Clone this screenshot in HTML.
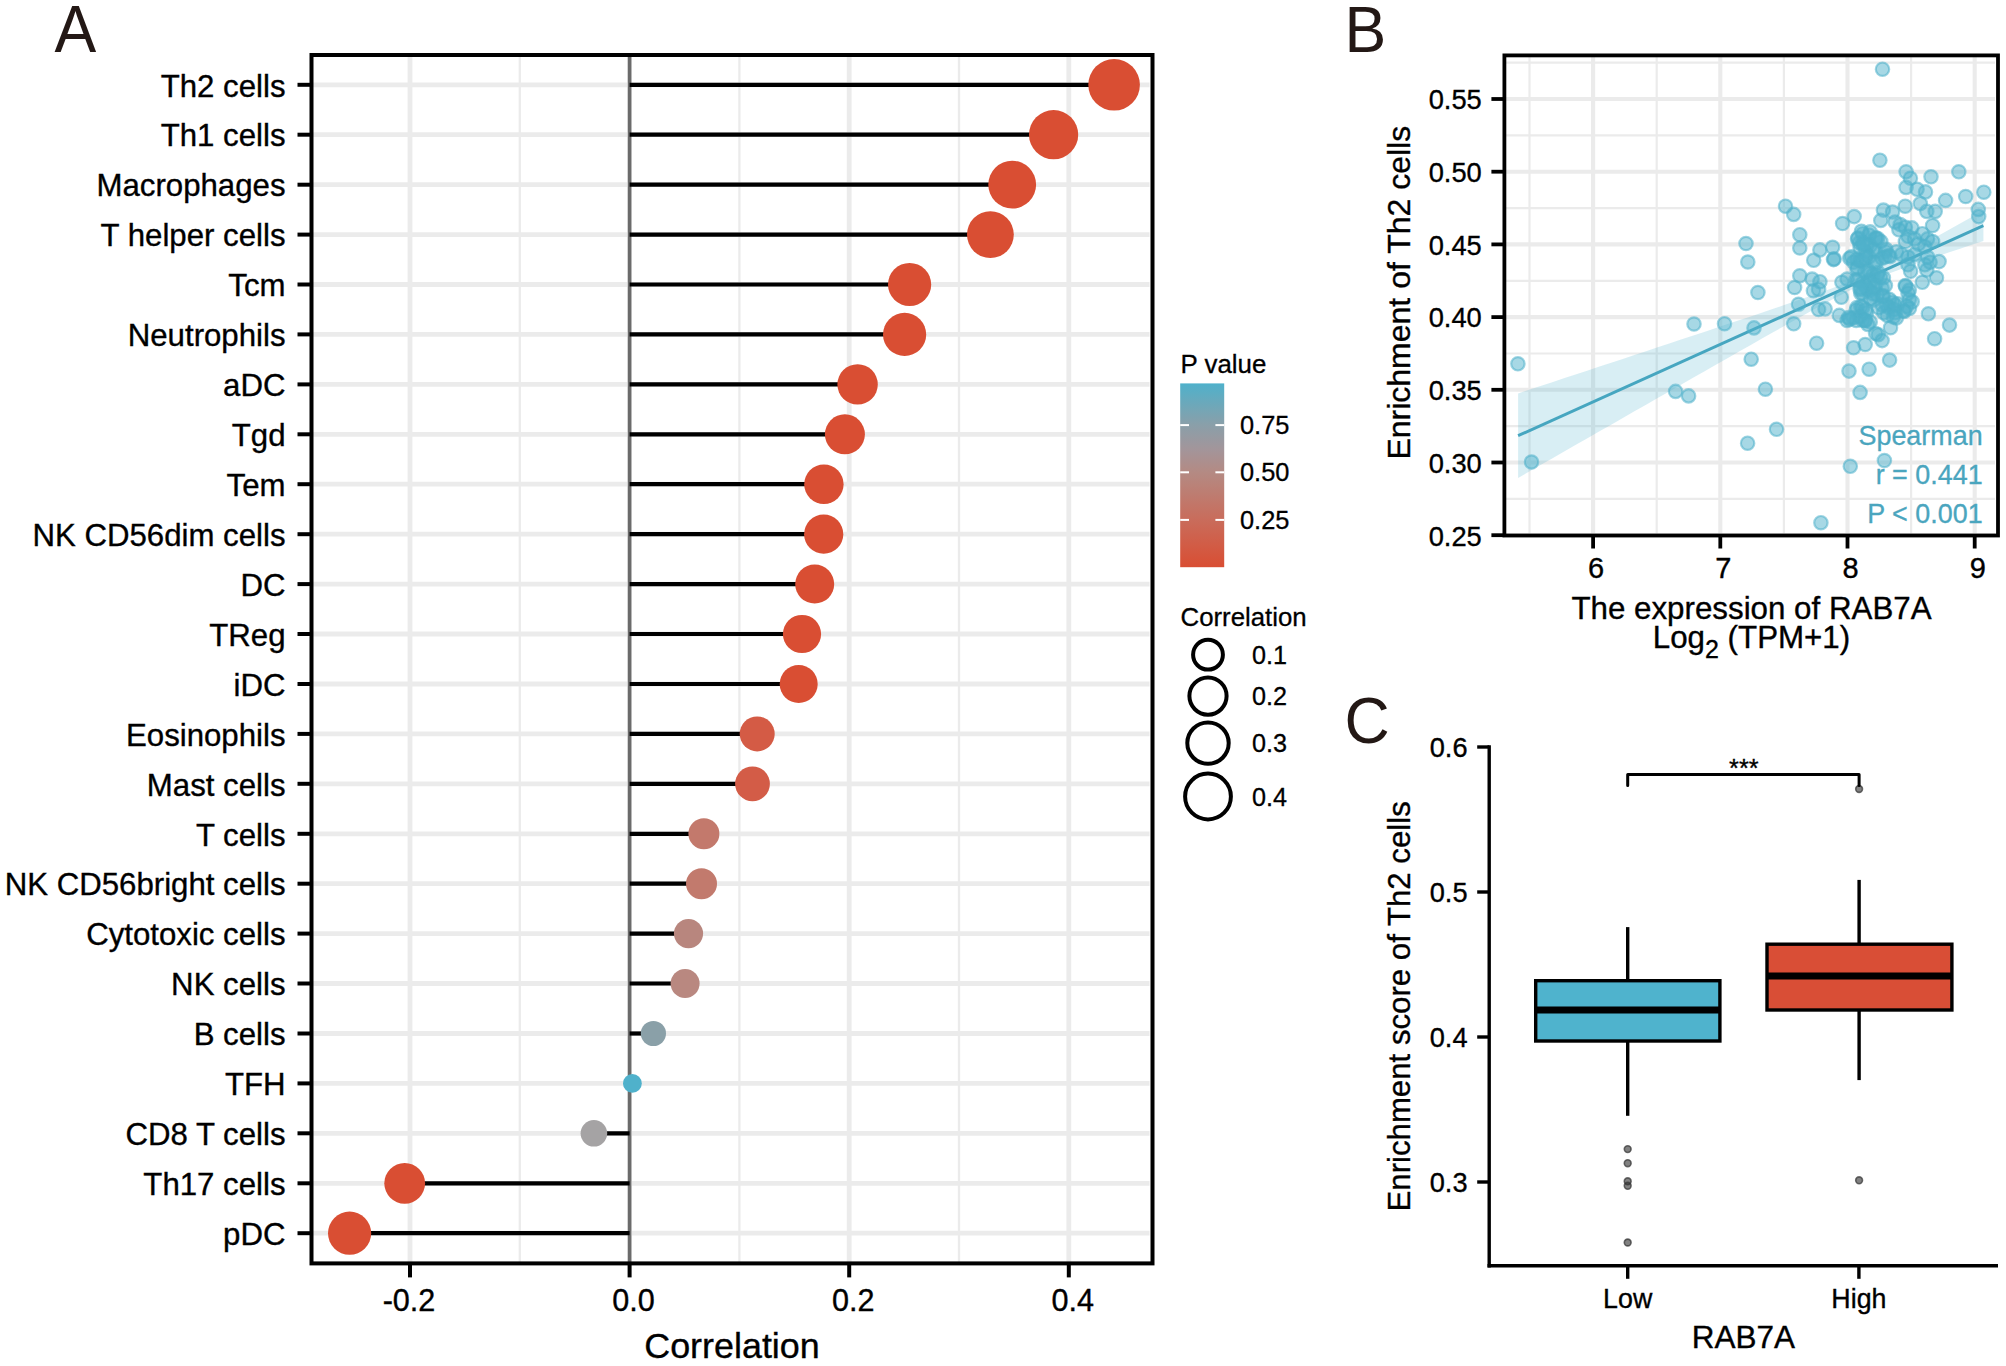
<!DOCTYPE html>
<html lang="en">
<head>
<meta charset="utf-8">
<title>RAB7A immune infiltration figure</title>
<style>
html,body{margin:0;padding:0;background:#fff;}
body{width:2006px;height:1366px;overflow:hidden;}
svg{display:block;}
</style>
</head>
<body>
<svg width="2006" height="1366" viewBox="0 0 2006 1366">
<rect width="2006" height="1366" fill="#fff"/>
<g id="panelA">
<g stroke="#ebebeb" fill="none">
<line x1="410.0" y1="55.0" x2="410.0" y2="1263.4" stroke-width="4.8"/>
<line x1="629.6" y1="55.0" x2="629.6" y2="1263.4" stroke-width="4.8"/>
<line x1="849.2" y1="55.0" x2="849.2" y2="1263.4" stroke-width="4.8"/>
<line x1="1068.8" y1="55.0" x2="1068.8" y2="1263.4" stroke-width="4.8"/>
<line x1="519.8" y1="55.0" x2="519.8" y2="1263.4" stroke-width="2.3"/>
<line x1="739.4" y1="55.0" x2="739.4" y2="1263.4" stroke-width="2.3"/>
<line x1="959.0" y1="55.0" x2="959.0" y2="1263.4" stroke-width="2.3"/>
<line x1="311.5" y1="84.8" x2="1149.5" y2="84.8" stroke-width="4.8"/>
<line x1="311.5" y1="134.7" x2="1149.5" y2="134.7" stroke-width="4.8"/>
<line x1="311.5" y1="184.7" x2="1149.5" y2="184.7" stroke-width="4.8"/>
<line x1="311.5" y1="234.6" x2="1149.5" y2="234.6" stroke-width="4.8"/>
<line x1="311.5" y1="284.5" x2="1149.5" y2="284.5" stroke-width="4.8"/>
<line x1="311.5" y1="334.4" x2="1149.5" y2="334.4" stroke-width="4.8"/>
<line x1="311.5" y1="384.4" x2="1149.5" y2="384.4" stroke-width="4.8"/>
<line x1="311.5" y1="434.3" x2="1149.5" y2="434.3" stroke-width="4.8"/>
<line x1="311.5" y1="484.2" x2="1149.5" y2="484.2" stroke-width="4.8"/>
<line x1="311.5" y1="534.2" x2="1149.5" y2="534.2" stroke-width="4.8"/>
<line x1="311.5" y1="584.1" x2="1149.5" y2="584.1" stroke-width="4.8"/>
<line x1="311.5" y1="634.0" x2="1149.5" y2="634.0" stroke-width="4.8"/>
<line x1="311.5" y1="684.0" x2="1149.5" y2="684.0" stroke-width="4.8"/>
<line x1="311.5" y1="733.9" x2="1149.5" y2="733.9" stroke-width="4.8"/>
<line x1="311.5" y1="783.8" x2="1149.5" y2="783.8" stroke-width="4.8"/>
<line x1="311.5" y1="833.8" x2="1149.5" y2="833.8" stroke-width="4.8"/>
<line x1="311.5" y1="883.7" x2="1149.5" y2="883.7" stroke-width="4.8"/>
<line x1="311.5" y1="933.6" x2="1149.5" y2="933.6" stroke-width="4.8"/>
<line x1="311.5" y1="983.5" x2="1149.5" y2="983.5" stroke-width="4.8"/>
<line x1="311.5" y1="1033.5" x2="1149.5" y2="1033.5" stroke-width="4.8"/>
<line x1="311.5" y1="1083.4" x2="1149.5" y2="1083.4" stroke-width="4.8"/>
<line x1="311.5" y1="1133.3" x2="1149.5" y2="1133.3" stroke-width="4.8"/>
<line x1="311.5" y1="1183.3" x2="1149.5" y2="1183.3" stroke-width="4.8"/>
<line x1="311.5" y1="1233.2" x2="1149.5" y2="1233.2" stroke-width="4.8"/>
</g>
<line x1="629.6" y1="55.0" x2="629.6" y2="1263.4" stroke="#6b6b6b" stroke-width="3.6"/>
<g stroke="#000" stroke-width="4.2">
<line x1="629.6" y1="84.8" x2="1114.1" y2="84.8"/>
<line x1="629.6" y1="134.7" x2="1053.6" y2="134.7"/>
<line x1="629.6" y1="184.7" x2="1012.2" y2="184.7"/>
<line x1="629.6" y1="234.6" x2="990.4" y2="234.6"/>
<line x1="629.6" y1="284.5" x2="909.6" y2="284.5"/>
<line x1="629.6" y1="334.4" x2="904.6" y2="334.4"/>
<line x1="629.6" y1="384.4" x2="857.6" y2="384.4"/>
<line x1="629.6" y1="434.3" x2="844.9" y2="434.3"/>
<line x1="629.6" y1="484.2" x2="823.9" y2="484.2"/>
<line x1="629.6" y1="534.2" x2="823.7" y2="534.2"/>
<line x1="629.6" y1="584.1" x2="814.7" y2="584.1"/>
<line x1="629.6" y1="634.0" x2="802.0" y2="634.0"/>
<line x1="629.6" y1="684.0" x2="798.7" y2="684.0"/>
<line x1="629.6" y1="733.9" x2="757.2" y2="733.9"/>
<line x1="629.6" y1="783.8" x2="752.5" y2="783.8"/>
<line x1="629.6" y1="833.8" x2="703.9" y2="833.8"/>
<line x1="629.6" y1="883.7" x2="701.5" y2="883.7"/>
<line x1="629.6" y1="933.6" x2="688.5" y2="933.6"/>
<line x1="629.6" y1="983.5" x2="685.1" y2="983.5"/>
<line x1="629.6" y1="1033.5" x2="653.4" y2="1033.5"/>
<line x1="629.6" y1="1083.4" x2="632.4" y2="1083.4"/>
<line x1="629.6" y1="1133.3" x2="593.9" y2="1133.3"/>
<line x1="629.6" y1="1183.3" x2="404.7" y2="1183.3"/>
<line x1="629.6" y1="1233.2" x2="349.6" y2="1233.2"/>
</g>
<circle cx="1114.1" cy="84.8" r="25.8" fill="#d94e33"/>
<circle cx="1053.6" cy="134.7" r="24.6" fill="#d94e33"/>
<circle cx="1012.2" cy="184.7" r="23.9" fill="#d94e33"/>
<circle cx="990.4" cy="234.6" r="23.4" fill="#d94e33"/>
<circle cx="909.6" cy="284.5" r="21.6" fill="#d94e33"/>
<circle cx="904.6" cy="334.4" r="21.6" fill="#d94e33"/>
<circle cx="857.6" cy="384.4" r="20.2" fill="#d94e33"/>
<circle cx="844.9" cy="434.3" r="20.0" fill="#d94e33"/>
<circle cx="823.9" cy="484.2" r="19.7" fill="#d94e33"/>
<circle cx="823.7" cy="534.2" r="19.6" fill="#d94e33"/>
<circle cx="814.7" cy="584.1" r="19.5" fill="#d94e33"/>
<circle cx="802.0" cy="634.0" r="19.1" fill="#d94e33"/>
<circle cx="798.7" cy="684.0" r="19.0" fill="#d94e33"/>
<circle cx="757.2" cy="733.9" r="17.5" fill="#d45b45"/>
<circle cx="752.5" cy="783.8" r="17.4" fill="#d35c47"/>
<circle cx="703.9" cy="833.8" r="15.5" fill="#c3796c"/>
<circle cx="701.5" cy="883.7" r="15.5" fill="#c27a6d"/>
<circle cx="688.5" cy="933.6" r="14.6" fill="#b8867e"/>
<circle cx="685.1" cy="983.5" r="14.5" fill="#b98880"/>
<circle cx="653.4" cy="1033.5" r="12.6" fill="#8aa0a8"/>
<circle cx="632.4" cy="1083.4" r="9.4" fill="#4fb1cb"/>
<circle cx="593.9" cy="1133.3" r="13.3" fill="#a5a3a4"/>
<circle cx="404.7" cy="1183.3" r="20.4" fill="#d94e33"/>
<circle cx="349.6" cy="1233.2" r="21.6" fill="#d94e33"/>
<rect x="311.5" y="55.0" width="841.0" height="1208.4" fill="none" stroke="#000" stroke-width="4"/>
<g stroke="#000" stroke-width="4">
<line x1="297.5" y1="84.8" x2="311.5" y2="84.8"/>
<line x1="297.5" y1="134.7" x2="311.5" y2="134.7"/>
<line x1="297.5" y1="184.7" x2="311.5" y2="184.7"/>
<line x1="297.5" y1="234.6" x2="311.5" y2="234.6"/>
<line x1="297.5" y1="284.5" x2="311.5" y2="284.5"/>
<line x1="297.5" y1="334.4" x2="311.5" y2="334.4"/>
<line x1="297.5" y1="384.4" x2="311.5" y2="384.4"/>
<line x1="297.5" y1="434.3" x2="311.5" y2="434.3"/>
<line x1="297.5" y1="484.2" x2="311.5" y2="484.2"/>
<line x1="297.5" y1="534.2" x2="311.5" y2="534.2"/>
<line x1="297.5" y1="584.1" x2="311.5" y2="584.1"/>
<line x1="297.5" y1="634.0" x2="311.5" y2="634.0"/>
<line x1="297.5" y1="684.0" x2="311.5" y2="684.0"/>
<line x1="297.5" y1="733.9" x2="311.5" y2="733.9"/>
<line x1="297.5" y1="783.8" x2="311.5" y2="783.8"/>
<line x1="297.5" y1="833.8" x2="311.5" y2="833.8"/>
<line x1="297.5" y1="883.7" x2="311.5" y2="883.7"/>
<line x1="297.5" y1="933.6" x2="311.5" y2="933.6"/>
<line x1="297.5" y1="983.5" x2="311.5" y2="983.5"/>
<line x1="297.5" y1="1033.5" x2="311.5" y2="1033.5"/>
<line x1="297.5" y1="1083.4" x2="311.5" y2="1083.4"/>
<line x1="297.5" y1="1133.3" x2="311.5" y2="1133.3"/>
<line x1="297.5" y1="1183.3" x2="311.5" y2="1183.3"/>
<line x1="297.5" y1="1233.2" x2="311.5" y2="1233.2"/>
<line x1="410.0" y1="1263.4" x2="410.0" y2="1277.4"/>
<line x1="629.6" y1="1263.4" x2="629.6" y2="1277.4"/>
<line x1="849.2" y1="1263.4" x2="849.2" y2="1277.4"/>
<line x1="1068.8" y1="1263.4" x2="1068.8" y2="1277.4"/>
</g>
<g font-family='"Liberation Sans", Arial, Helvetica, sans-serif' font-size="31.2" fill="#000" stroke="#000" stroke-width="0.35" text-anchor="end">
<text x="285.5" y="96.5">Th2 cells</text>
<text x="285.5" y="146.4">Th1 cells</text>
<text x="285.5" y="196.4">Macrophages</text>
<text x="285.5" y="246.3">T helper cells</text>
<text x="285.5" y="296.2">Tcm</text>
<text x="285.5" y="346.1">Neutrophils</text>
<text x="285.5" y="396.1">aDC</text>
<text x="285.5" y="446.0">Tgd</text>
<text x="285.5" y="495.9">Tem</text>
<text x="285.5" y="545.9">NK CD56dim cells</text>
<text x="285.5" y="595.8">DC</text>
<text x="285.5" y="645.7">TReg</text>
<text x="285.5" y="695.7">iDC</text>
<text x="285.5" y="745.6">Eosinophils</text>
<text x="285.5" y="795.5">Mast cells</text>
<text x="285.5" y="845.5">T cells</text>
<text x="285.5" y="895.4">NK CD56bright cells</text>
<text x="285.5" y="945.3">Cytotoxic cells</text>
<text x="285.5" y="995.2">NK cells</text>
<text x="285.5" y="1045.2">B cells</text>
<text x="285.5" y="1095.1">TFH</text>
<text x="285.5" y="1145.0">CD8 T cells</text>
<text x="285.5" y="1195.0">Th17 cells</text>
<text x="285.5" y="1244.9">pDC</text>
</g>
<g font-family='"Liberation Sans", Arial, Helvetica, sans-serif' font-size="30.6" fill="#000" stroke="#000" stroke-width="0.35" text-anchor="middle">
<text x="409.0" y="1311.2">-0.2</text>
<text x="633.6" y="1311.2">0.0</text>
<text x="853.2" y="1311.2">0.2</text>
<text x="1072.8" y="1311.2">0.4</text>
</g>
<text x="732" y="1357.5" font-family='"Liberation Sans", Arial, Helvetica, sans-serif' font-size="35.9" fill="#000" stroke="#000" stroke-width="0.35" text-anchor="middle">Correlation</text>
<text transform="translate(54.6,52.3) scale(1,1.05)" font-family='"Liberation Sans", Arial, Helvetica, sans-serif' font-size="62.6" fill="#231815">A</text>
<defs><linearGradient id="pg" x1="0" y1="0" x2="0" y2="1"><stop offset="0" stop-color="#4fb1cb"/><stop offset="0.227" stop-color="#8a9fa9"/><stop offset="0.36" stop-color="#a3959a"/><stop offset="0.484" stop-color="#b48a83"/><stop offset="0.743" stop-color="#c96c5b"/><stop offset="1" stop-color="#d94e33"/></linearGradient></defs>
<text x="1180.5" y="373" font-family='"Liberation Sans", Arial, Helvetica, sans-serif' font-size="25.9" fill="#000" stroke="#000" stroke-width="0.3">P value</text>
<rect x="1180.2" y="383.4" width="44" height="183.8" fill="url(#pg)"/>
<g stroke="#fff" stroke-width="2">
<line x1="1180.2" y1="425.1" x2="1189" y2="425.1"/><line x1="1215.4" y1="425.1" x2="1224.2" y2="425.1"/>
<line x1="1180.2" y1="472.3" x2="1189" y2="472.3"/><line x1="1215.4" y1="472.3" x2="1224.2" y2="472.3"/>
<line x1="1180.2" y1="519.9" x2="1189" y2="519.9"/><line x1="1215.4" y1="519.9" x2="1224.2" y2="519.9"/>
</g>
<g font-family='"Liberation Sans", Arial, Helvetica, sans-serif' font-size="25.4" fill="#000" stroke="#000" stroke-width="0.3">
<text x="1240" y="434.1">0.75</text>
<text x="1240" y="481.3">0.50</text>
<text x="1240" y="528.9">0.25</text>
</g>
<text x="1180.5" y="625.8" font-family='"Liberation Sans", Arial, Helvetica, sans-serif' font-size="25.8" fill="#000" stroke="#000" stroke-width="0.3">Correlation</text>
<g fill="none" stroke="#000" stroke-width="4">
<circle cx="1208" cy="654.7" r="14.9"/>
<circle cx="1208" cy="696.1" r="18.6"/>
<circle cx="1208" cy="743.1" r="20.7"/>
<circle cx="1208" cy="796.5" r="22.9"/>
</g>
<g font-family='"Liberation Sans", Arial, Helvetica, sans-serif' font-size="25.2" fill="#000" stroke="#000" stroke-width="0.3">
<text x="1252" y="664">0.1</text>
<text x="1252" y="705">0.2</text>
<text x="1252" y="752">0.3</text>
<text x="1252" y="806">0.4</text>
</g>
</g>
<g id="panelB">
<clipPath id="bclip"><rect x="1504.4" y="55.4" width="493.5999999999999" height="480.1"/></clipPath>
<g stroke="#ebebeb" fill="none">
<line x1="1529.5" y1="55.4" x2="1529.5" y2="535.5" stroke-width="2.2"/>
<line x1="1656.7" y1="55.4" x2="1656.7" y2="535.5" stroke-width="2.2"/>
<line x1="1783.9" y1="55.4" x2="1783.9" y2="535.5" stroke-width="2.2"/>
<line x1="1911.1" y1="55.4" x2="1911.1" y2="535.5" stroke-width="2.2"/>
<line x1="1593.1" y1="55.4" x2="1593.1" y2="535.5" stroke-width="4.1"/>
<line x1="1720.3" y1="55.4" x2="1720.3" y2="535.5" stroke-width="4.1"/>
<line x1="1847.5" y1="55.4" x2="1847.5" y2="535.5" stroke-width="4.1"/>
<line x1="1974.7" y1="55.4" x2="1974.7" y2="535.5" stroke-width="4.1"/>
<line x1="1504.4" y1="498.9" x2="1995.0" y2="498.9" stroke-width="2.2"/>
<line x1="1504.4" y1="426.2" x2="1995.0" y2="426.2" stroke-width="2.2"/>
<line x1="1504.4" y1="353.5" x2="1995.0" y2="353.5" stroke-width="2.2"/>
<line x1="1504.4" y1="280.8" x2="1995.0" y2="280.8" stroke-width="2.2"/>
<line x1="1504.4" y1="208.1" x2="1995.0" y2="208.1" stroke-width="2.2"/>
<line x1="1504.4" y1="135.4" x2="1995.0" y2="135.4" stroke-width="2.2"/>
<line x1="1504.4" y1="62.6" x2="1995.0" y2="62.6" stroke-width="2.2"/>
<line x1="1504.4" y1="535.2" x2="1995.0" y2="535.2" stroke-width="4.1"/>
<line x1="1504.4" y1="462.5" x2="1995.0" y2="462.5" stroke-width="4.1"/>
<line x1="1504.4" y1="389.8" x2="1995.0" y2="389.8" stroke-width="4.1"/>
<line x1="1504.4" y1="317.1" x2="1995.0" y2="317.1" stroke-width="4.1"/>
<line x1="1504.4" y1="244.4" x2="1995.0" y2="244.4" stroke-width="4.1"/>
<line x1="1504.4" y1="171.7" x2="1995.0" y2="171.7" stroke-width="4.1"/>
<line x1="1504.4" y1="99.0" x2="1995.0" y2="99.0" stroke-width="4.1"/>
</g>
<g clip-path="url(#bclip)">
<path d="M1518.1,393.4 L1529.7,389.6 L1541.4,385.8 L1553.0,381.9 L1564.6,378.1 L1576.3,374.2 L1587.9,370.4 L1599.5,366.5 L1611.2,362.7 L1622.8,358.9 L1634.4,355.0 L1646.1,351.2 L1657.7,347.3 L1669.3,343.4 L1681.0,339.6 L1692.6,335.7 L1704.2,331.9 L1715.9,328.0 L1727.5,324.1 L1739.1,320.2 L1750.8,316.4 L1762.4,312.5 L1774.0,308.5 L1785.6,304.6 L1797.3,300.6 L1808.9,296.6 L1820.5,292.5 L1832.2,288.3 L1843.8,283.8 L1855.4,279.1 L1867.1,273.9 L1878.7,268.2 L1890.3,262.2 L1902.0,256.0 L1913.6,249.6 L1925.2,243.2 L1936.9,236.6 L1948.5,230.1 L1960.1,223.5 L1971.8,216.9 L1983.4,210.3 L1983.4,240.9 L1971.8,244.8 L1960.1,248.7 L1948.5,252.6 L1936.9,256.6 L1925.2,260.6 L1913.6,264.6 L1902.0,268.7 L1890.3,273.0 L1878.7,277.5 L1867.1,282.4 L1855.4,287.7 L1843.8,293.4 L1832.2,299.5 L1820.5,305.8 L1808.9,312.2 L1797.3,318.7 L1785.6,325.2 L1774.0,331.8 L1762.4,338.3 L1750.8,344.9 L1739.1,351.6 L1727.5,358.2 L1715.9,364.8 L1704.2,371.5 L1692.6,378.1 L1681.0,384.7 L1669.3,391.4 L1657.7,398.0 L1646.1,404.7 L1634.4,411.3 L1622.8,418.0 L1611.2,424.7 L1599.5,431.3 L1587.9,438.0 L1576.3,444.6 L1564.6,451.3 L1553.0,458.0 L1541.4,464.6 L1529.7,471.3 L1518.1,478.0Z" fill="#4fb1cb" fill-opacity="0.22"/>
<line x1="1518.1" y1="435.7" x2="1983.4" y2="225.6" stroke="#46a6c0" stroke-width="3"/>
<g fill="#4fb1cb" fill-opacity="0.5" stroke="#4fb1cb" stroke-opacity="0.55" stroke-width="2.2">
<circle cx="1517.9" cy="363.8" r="6.7"/>
<circle cx="1531.5" cy="462.0" r="6.7"/>
<circle cx="1675.6" cy="391.4" r="6.7"/>
<circle cx="1688.6" cy="395.9" r="6.7"/>
<circle cx="1694.0" cy="324.0" r="6.7"/>
<circle cx="1724.5" cy="323.7" r="6.7"/>
<circle cx="1754.0" cy="327.9" r="6.7"/>
<circle cx="1751.2" cy="359.2" r="6.7"/>
<circle cx="1747.6" cy="443.2" r="6.7"/>
<circle cx="1757.9" cy="292.5" r="6.7"/>
<circle cx="1746.0" cy="243.5" r="6.7"/>
<circle cx="1747.8" cy="262.0" r="6.7"/>
<circle cx="1882.5" cy="69.2" r="6.7"/>
<circle cx="1879.9" cy="160.2" r="6.7"/>
<circle cx="1906.1" cy="171.8" r="6.7"/>
<circle cx="1910.4" cy="178.3" r="6.7"/>
<circle cx="1906.1" cy="187.4" r="6.7"/>
<circle cx="1917.1" cy="189.3" r="6.7"/>
<circle cx="1925.5" cy="191.9" r="6.7"/>
<circle cx="1931.0" cy="176.8" r="6.7"/>
<circle cx="1958.8" cy="171.8" r="6.7"/>
<circle cx="1983.8" cy="192.2" r="6.7"/>
<circle cx="1965.7" cy="196.5" r="6.7"/>
<circle cx="1945.6" cy="200.4" r="6.7"/>
<circle cx="1920.3" cy="203.6" r="6.7"/>
<circle cx="1905.2" cy="206.2" r="6.7"/>
<circle cx="1926.8" cy="211.4" r="6.7"/>
<circle cx="1935.2" cy="211.4" r="6.7"/>
<circle cx="1978.3" cy="209.4" r="6.7"/>
<circle cx="1978.7" cy="216.6" r="6.7"/>
<circle cx="1883.4" cy="210.1" r="6.7"/>
<circle cx="1892.5" cy="212.0" r="6.7"/>
<circle cx="1880.8" cy="220.4" r="6.7"/>
<circle cx="1785.5" cy="206.2" r="6.7"/>
<circle cx="1793.7" cy="214.4" r="6.7"/>
<circle cx="1854.2" cy="216.6" r="6.7"/>
<circle cx="1842.6" cy="223.5" r="6.7"/>
<circle cx="1932.6" cy="225.5" r="6.7"/>
<circle cx="1799.8" cy="234.7" r="6.7"/>
<circle cx="1799.8" cy="248.0" r="6.7"/>
<circle cx="1819.9" cy="249.9" r="6.7"/>
<circle cx="1832.6" cy="247.3" r="6.7"/>
<circle cx="1813.7" cy="260.3" r="6.7"/>
<circle cx="1833.5" cy="259.6" r="6.7"/>
<circle cx="1834.1" cy="258.9" r="6.7"/>
<circle cx="1799.8" cy="275.8" r="6.7"/>
<circle cx="1812.1" cy="279.1" r="6.7"/>
<circle cx="1819.9" cy="281.7" r="6.7"/>
<circle cx="1794.6" cy="287.5" r="6.7"/>
<circle cx="1813.4" cy="290.7" r="6.7"/>
<circle cx="1818.6" cy="289.4" r="6.7"/>
<circle cx="1798.5" cy="304.3" r="6.7"/>
<circle cx="1818.6" cy="309.5" r="6.7"/>
<circle cx="1825.1" cy="308.9" r="6.7"/>
<circle cx="1841.3" cy="297.2" r="6.7"/>
<circle cx="1841.9" cy="282.3" r="6.7"/>
<circle cx="1847.1" cy="279.1" r="6.7"/>
<circle cx="1793.7" cy="323.8" r="6.7"/>
<circle cx="1816.6" cy="343.2" r="6.7"/>
<circle cx="1839.3" cy="315.4" r="6.7"/>
<circle cx="1847.1" cy="320.5" r="6.7"/>
<circle cx="1853.6" cy="347.8" r="6.7"/>
<circle cx="1865.2" cy="344.5" r="6.7"/>
<circle cx="1849.0" cy="371.1" r="6.7"/>
<circle cx="1869.1" cy="369.2" r="6.7"/>
<circle cx="1889.6" cy="360.1" r="6.7"/>
<circle cx="1878.2" cy="334.8" r="6.7"/>
<circle cx="1882.1" cy="340.6" r="6.7"/>
<circle cx="1875.6" cy="333.5" r="6.7"/>
<circle cx="1890.5" cy="327.7" r="6.7"/>
<circle cx="1928.4" cy="313.8" r="6.7"/>
<circle cx="1949.5" cy="325.1" r="6.7"/>
<circle cx="1934.6" cy="338.7" r="6.7"/>
<circle cx="1936.5" cy="277.8" r="6.7"/>
<circle cx="1922.3" cy="282.3" r="6.7"/>
<circle cx="1939.1" cy="261.6" r="6.7"/>
<circle cx="1926.8" cy="270.0" r="6.7"/>
<circle cx="1765.4" cy="389.2" r="6.7"/>
<circle cx="1860.1" cy="392.4" r="6.7"/>
<circle cx="1776.5" cy="429.3" r="6.7"/>
<circle cx="1850.3" cy="466.3" r="6.7"/>
<circle cx="1884.4" cy="460.5" r="6.7"/>
<circle cx="1820.9" cy="522.7" r="6.7"/>
<circle cx="1862.7" cy="233.7" r="6.7"/>
<circle cx="1861.4" cy="231.2" r="6.7"/>
<circle cx="1869.1" cy="235.0" r="6.7"/>
<circle cx="1870.2" cy="231.9" r="6.7"/>
<circle cx="1875.6" cy="238.9" r="6.7"/>
<circle cx="1875.9" cy="237.9" r="6.7"/>
<circle cx="1862.7" cy="242.8" r="6.7"/>
<circle cx="1859.4" cy="242.8" r="6.7"/>
<circle cx="1870.4" cy="245.4" r="6.7"/>
<circle cx="1867.1" cy="244.9" r="6.7"/>
<circle cx="1880.8" cy="241.5" r="6.7"/>
<circle cx="1877.7" cy="238.5" r="6.7"/>
<circle cx="1886.0" cy="249.3" r="6.7"/>
<circle cx="1885.4" cy="251.6" r="6.7"/>
<circle cx="1875.6" cy="251.8" r="6.7"/>
<circle cx="1872.9" cy="249.8" r="6.7"/>
<circle cx="1865.2" cy="251.8" r="6.7"/>
<circle cx="1866.2" cy="255.1" r="6.7"/>
<circle cx="1857.5" cy="238.9" r="6.7"/>
<circle cx="1858.0" cy="238.1" r="6.7"/>
<circle cx="1860.1" cy="248.0" r="6.7"/>
<circle cx="1863.5" cy="244.7" r="6.7"/>
<circle cx="1895.1" cy="222.0" r="6.7"/>
<circle cx="1900.2" cy="224.6" r="6.7"/>
<circle cx="1905.4" cy="227.2" r="6.7"/>
<circle cx="1911.9" cy="227.9" r="6.7"/>
<circle cx="1898.9" cy="229.8" r="6.7"/>
<circle cx="1908.0" cy="236.3" r="6.7"/>
<circle cx="1905.4" cy="241.5" r="6.7"/>
<circle cx="1914.5" cy="238.9" r="6.7"/>
<circle cx="1922.3" cy="233.7" r="6.7"/>
<circle cx="1927.5" cy="238.9" r="6.7"/>
<circle cx="1932.6" cy="241.5" r="6.7"/>
<circle cx="1924.9" cy="246.7" r="6.7"/>
<circle cx="1918.4" cy="244.1" r="6.7"/>
<circle cx="1849.7" cy="258.3" r="6.7"/>
<circle cx="1851.4" cy="256.8" r="6.7"/>
<circle cx="1853.6" cy="262.2" r="6.7"/>
<circle cx="1857.1" cy="259.4" r="6.7"/>
<circle cx="1857.5" cy="267.4" r="6.7"/>
<circle cx="1856.9" cy="269.3" r="6.7"/>
<circle cx="1862.7" cy="260.9" r="6.7"/>
<circle cx="1860.1" cy="260.8" r="6.7"/>
<circle cx="1869.1" cy="257.0" r="6.7"/>
<circle cx="1865.8" cy="258.3" r="6.7"/>
<circle cx="1874.3" cy="262.2" r="6.7"/>
<circle cx="1876.2" cy="262.7" r="6.7"/>
<circle cx="1882.1" cy="258.3" r="6.7"/>
<circle cx="1884.8" cy="257.0" r="6.7"/>
<circle cx="1888.6" cy="255.7" r="6.7"/>
<circle cx="1890.0" cy="256.4" r="6.7"/>
<circle cx="1896.4" cy="251.8" r="6.7"/>
<circle cx="1901.5" cy="254.4" r="6.7"/>
<circle cx="1908.0" cy="257.0" r="6.7"/>
<circle cx="1914.5" cy="254.4" r="6.7"/>
<circle cx="1908.0" cy="264.8" r="6.7"/>
<circle cx="1910.6" cy="271.3" r="6.7"/>
<circle cx="1927.5" cy="257.0" r="6.7"/>
<circle cx="1930.1" cy="262.2" r="6.7"/>
<circle cx="1924.9" cy="264.8" r="6.7"/>
<circle cx="1867.8" cy="270.0" r="6.7"/>
<circle cx="1864.6" cy="271.9" r="6.7"/>
<circle cx="1873.0" cy="275.2" r="6.7"/>
<circle cx="1870.3" cy="273.3" r="6.7"/>
<circle cx="1878.2" cy="272.6" r="6.7"/>
<circle cx="1877.4" cy="275.3" r="6.7"/>
<circle cx="1883.4" cy="277.8" r="6.7"/>
<circle cx="1880.4" cy="277.4" r="6.7"/>
<circle cx="1869.1" cy="280.4" r="6.7"/>
<circle cx="1869.5" cy="283.1" r="6.7"/>
<circle cx="1862.7" cy="283.0" r="6.7"/>
<circle cx="1865.0" cy="285.6" r="6.7"/>
<circle cx="1857.5" cy="280.4" r="6.7"/>
<circle cx="1855.9" cy="279.7" r="6.7"/>
<circle cx="1875.6" cy="285.5" r="6.7"/>
<circle cx="1874.6" cy="288.3" r="6.7"/>
<circle cx="1882.1" cy="288.1" r="6.7"/>
<circle cx="1885.4" cy="285.6" r="6.7"/>
<circle cx="1869.1" cy="290.7" r="6.7"/>
<circle cx="1866.8" cy="288.8" r="6.7"/>
<circle cx="1862.7" cy="293.3" r="6.7"/>
<circle cx="1860.7" cy="293.2" r="6.7"/>
<circle cx="1860.1" cy="289.4" r="6.7"/>
<circle cx="1860.7" cy="287.7" r="6.7"/>
<circle cx="1876.9" cy="294.6" r="6.7"/>
<circle cx="1873.3" cy="294.0" r="6.7"/>
<circle cx="1883.4" cy="295.9" r="6.7"/>
<circle cx="1882.4" cy="296.4" r="6.7"/>
<circle cx="1870.4" cy="298.5" r="6.7"/>
<circle cx="1873.7" cy="299.9" r="6.7"/>
<circle cx="1905.4" cy="285.5" r="6.7"/>
<circle cx="1905.5" cy="286.4" r="6.7"/>
<circle cx="1908.0" cy="293.3" r="6.7"/>
<circle cx="1909.3" cy="290.1" r="6.7"/>
<circle cx="1909.3" cy="299.8" r="6.7"/>
<circle cx="1912.2" cy="301.8" r="6.7"/>
<circle cx="1906.7" cy="306.3" r="6.7"/>
<circle cx="1909.4" cy="308.4" r="6.7"/>
<circle cx="1904.1" cy="311.5" r="6.7"/>
<circle cx="1903.4" cy="310.7" r="6.7"/>
<circle cx="1897.7" cy="303.7" r="6.7"/>
<circle cx="1894.8" cy="304.7" r="6.7"/>
<circle cx="1892.5" cy="302.4" r="6.7"/>
<circle cx="1889.3" cy="299.3" r="6.7"/>
<circle cx="1888.6" cy="307.6" r="6.7"/>
<circle cx="1886.5" cy="305.1" r="6.7"/>
<circle cx="1895.1" cy="312.8" r="6.7"/>
<circle cx="1893.9" cy="309.5" r="6.7"/>
<circle cx="1887.3" cy="315.4" r="6.7"/>
<circle cx="1883.7" cy="312.8" r="6.7"/>
<circle cx="1896.4" cy="318.0" r="6.7"/>
<circle cx="1893.5" cy="317.0" r="6.7"/>
<circle cx="1882.1" cy="305.0" r="6.7"/>
<circle cx="1878.7" cy="307.7" r="6.7"/>
<circle cx="1856.2" cy="310.2" r="6.7"/>
<circle cx="1857.0" cy="307.6" r="6.7"/>
<circle cx="1862.7" cy="307.6" r="6.7"/>
<circle cx="1860.9" cy="306.5" r="6.7"/>
<circle cx="1866.5" cy="312.8" r="6.7"/>
<circle cx="1865.6" cy="310.0" r="6.7"/>
<circle cx="1860.1" cy="316.7" r="6.7"/>
<circle cx="1862.6" cy="320.2" r="6.7"/>
<circle cx="1865.2" cy="320.5" r="6.7"/>
<circle cx="1865.0" cy="320.4" r="6.7"/>
<circle cx="1856.2" cy="320.5" r="6.7"/>
<circle cx="1853.2" cy="317.7" r="6.7"/>
<circle cx="1849.7" cy="319.2" r="6.7"/>
<circle cx="1848.6" cy="317.5" r="6.7"/>
<circle cx="1867.8" cy="324.4" r="6.7"/>
<circle cx="1870.2" cy="322.0" r="6.7"/>
</g>
</g>
<g font-family='"Liberation Sans", Arial, Helvetica, sans-serif' font-size="26.9" fill="#4aa5be" stroke="#4aa5be" stroke-width="0.3" text-anchor="end">
<text x="1982.6" y="445">Spearman</text><text x="1982.6" y="483.8">r = 0.441</text><text x="1982.6" y="522.7">P &lt; 0.001</text>
</g>
<rect x="1504.4" y="55.4" width="493.5999999999999" height="480.1" fill="none" stroke="#000" stroke-width="3.8"/>
<g stroke="#000" stroke-width="3.8">
<line x1="1491.4" y1="535.2" x2="1504.4" y2="535.2"/>
<line x1="1491.4" y1="462.5" x2="1504.4" y2="462.5"/>
<line x1="1491.4" y1="389.8" x2="1504.4" y2="389.8"/>
<line x1="1491.4" y1="317.1" x2="1504.4" y2="317.1"/>
<line x1="1491.4" y1="244.4" x2="1504.4" y2="244.4"/>
<line x1="1491.4" y1="171.7" x2="1504.4" y2="171.7"/>
<line x1="1491.4" y1="99.0" x2="1504.4" y2="99.0"/>
<line x1="1593.1" y1="535.5" x2="1593.1" y2="548.5"/>
<line x1="1720.3" y1="535.5" x2="1720.3" y2="548.5"/>
<line x1="1847.5" y1="535.5" x2="1847.5" y2="548.5"/>
<line x1="1974.7" y1="535.5" x2="1974.7" y2="548.5"/>
</g>
<g font-family='"Liberation Sans", Arial, Helvetica, sans-serif' font-size="27.3" fill="#000" stroke="#000" stroke-width="0.35" text-anchor="end">
<text x="1481.8" y="545.5">0.25</text>
<text x="1481.8" y="472.8">0.30</text>
<text x="1481.8" y="400.1">0.35</text>
<text x="1481.8" y="327.4">0.40</text>
<text x="1481.8" y="254.7">0.45</text>
<text x="1481.8" y="182.0">0.50</text>
<text x="1481.8" y="109.3">0.55</text>
</g>
<g font-family='"Liberation Sans", Arial, Helvetica, sans-serif' font-size="29" fill="#000" stroke="#000" stroke-width="0.35" text-anchor="middle">
<text x="1596.1" y="578">6</text>
<text x="1723.3" y="578">7</text>
<text x="1850.5" y="578">8</text>
<text x="1977.7" y="578">9</text>
</g>
<text x="1751.5" y="619" font-family='"Liberation Sans", Arial, Helvetica, sans-serif' font-size="31.3" fill="#000" stroke="#000" stroke-width="0.35" text-anchor="middle">The expression of RAB7A</text>
<text x="1751.5" y="648" font-family='"Liberation Sans", Arial, Helvetica, sans-serif' font-size="31.3" fill="#000" stroke="#000" stroke-width="0.35" text-anchor="middle">Log<tspan font-size="25" dy="10">2</tspan><tspan dy="-10"> (TPM+1)</tspan></text>
<text transform="translate(1410.3,292.7) rotate(-90)" font-family='"Liberation Sans", Arial, Helvetica, sans-serif' font-size="32" fill="#000" stroke="#000" stroke-width="0.35" text-anchor="middle">Enrichment of Th2 cells</text>
<text transform="translate(1344.6,51.6) scale(1,1.04)" font-family='"Liberation Sans", Arial, Helvetica, sans-serif' font-size="62.6" fill="#231815">B</text>
</g>
<g id="panelC">
<g stroke="#000" stroke-width="3.4" fill="none">
<line x1="1489.2" y1="745.3" x2="1489.2" y2="1267.5"/>
<line x1="1487.5" y1="1265.8" x2="1998" y2="1265.8"/>
<line x1="1477.2" y1="1182.0" x2="1489.2" y2="1182.0"/>
<line x1="1477.2" y1="1037.0" x2="1489.2" y2="1037.0"/>
<line x1="1477.2" y1="892.0" x2="1489.2" y2="892.0"/>
<line x1="1477.2" y1="747.0" x2="1489.2" y2="747.0"/>
<line x1="1627.7" y1="1265.8" x2="1627.7" y2="1278.8"/>
<line x1="1858.9" y1="1265.8" x2="1858.9" y2="1278.8"/>
</g>
<g stroke="#000" stroke-width="3.4">
<line x1="1627.7" y1="927.1" x2="1627.7" y2="1115.8"/>
<line x1="1859.1000000000001" y1="879.9" x2="1859.1000000000001" y2="1080.1"/>
</g>
<rect x="1535.7" y="980.7" width="184.2" height="60.3" fill="#4fb3cd" stroke="#000" stroke-width="3.4"/>
<rect x="1767.0" y="944.2" width="184.9" height="65.8" fill="#d94e36" stroke="#000" stroke-width="3.4"/>
<g stroke="#000" stroke-width="7">
<line x1="1535.7" y1="1010" x2="1719.9" y2="1010"/>
<line x1="1767.0" y1="976.1" x2="1951.9" y2="976.1"/>
</g>
<g fill="#333" fill-opacity="0.62" stroke="#333" stroke-opacity="0.7" stroke-width="1.6">
<circle cx="1627.7" cy="1149.1" r="3.4"/>
<circle cx="1627.7" cy="1163.2" r="3.4"/>
<circle cx="1627.7" cy="1181.3" r="3.4"/>
<circle cx="1627.7" cy="1185.8" r="3.4"/>
<circle cx="1627.7" cy="1242.5" r="3.4"/>
<circle cx="1859.1000000000001" cy="789" r="3.4"/>
<circle cx="1859.1000000000001" cy="1180.3" r="3.4"/>
</g>
<path d="M1627.7,785.6 V774.6 H1859.1000000000001 V785.6" fill="none" stroke="#000" stroke-width="3" stroke-linejoin="round" stroke-linecap="round"/>
<text x="1743.8" y="777.3" font-family='"Liberation Sans", Arial, Helvetica, sans-serif' font-size="25.2" fill="#000" stroke="#000" stroke-width="0.35" text-anchor="middle">***</text>
<g font-family='"Liberation Sans", Arial, Helvetica, sans-serif' font-size="27.2" fill="#000" stroke="#000" stroke-width="0.35" text-anchor="end">
<text x="1467.5" y="1191.6">0.3</text>
<text x="1467.5" y="1046.6">0.4</text>
<text x="1467.5" y="901.6">0.5</text>
<text x="1467.5" y="756.6">0.6</text>
</g>
<g font-family='"Liberation Sans", Arial, Helvetica, sans-serif' font-size="26.8" fill="#000" stroke="#000" stroke-width="0.35" text-anchor="middle">
<text x="1627.7" y="1308">Low</text><text x="1858.9" y="1308">High</text>
</g>
<text x="1743.3" y="1348" font-family='"Liberation Sans", Arial, Helvetica, sans-serif' font-size="31.5" fill="#000" stroke="#000" stroke-width="0.35" text-anchor="middle">RAB7A</text>
<text transform="translate(1409.8,1006.4) rotate(-90)" font-family='"Liberation Sans", Arial, Helvetica, sans-serif' font-size="31.2" fill="#000" stroke="#000" stroke-width="0.35" text-anchor="middle">Enrichment score of Th2 cells</text>
<text transform="translate(1344.6,742.5) scale(1,1.04)" font-family='"Liberation Sans", Arial, Helvetica, sans-serif' font-size="62.6" fill="#231815">C</text>
</g>
</svg>
</body>
</html>
